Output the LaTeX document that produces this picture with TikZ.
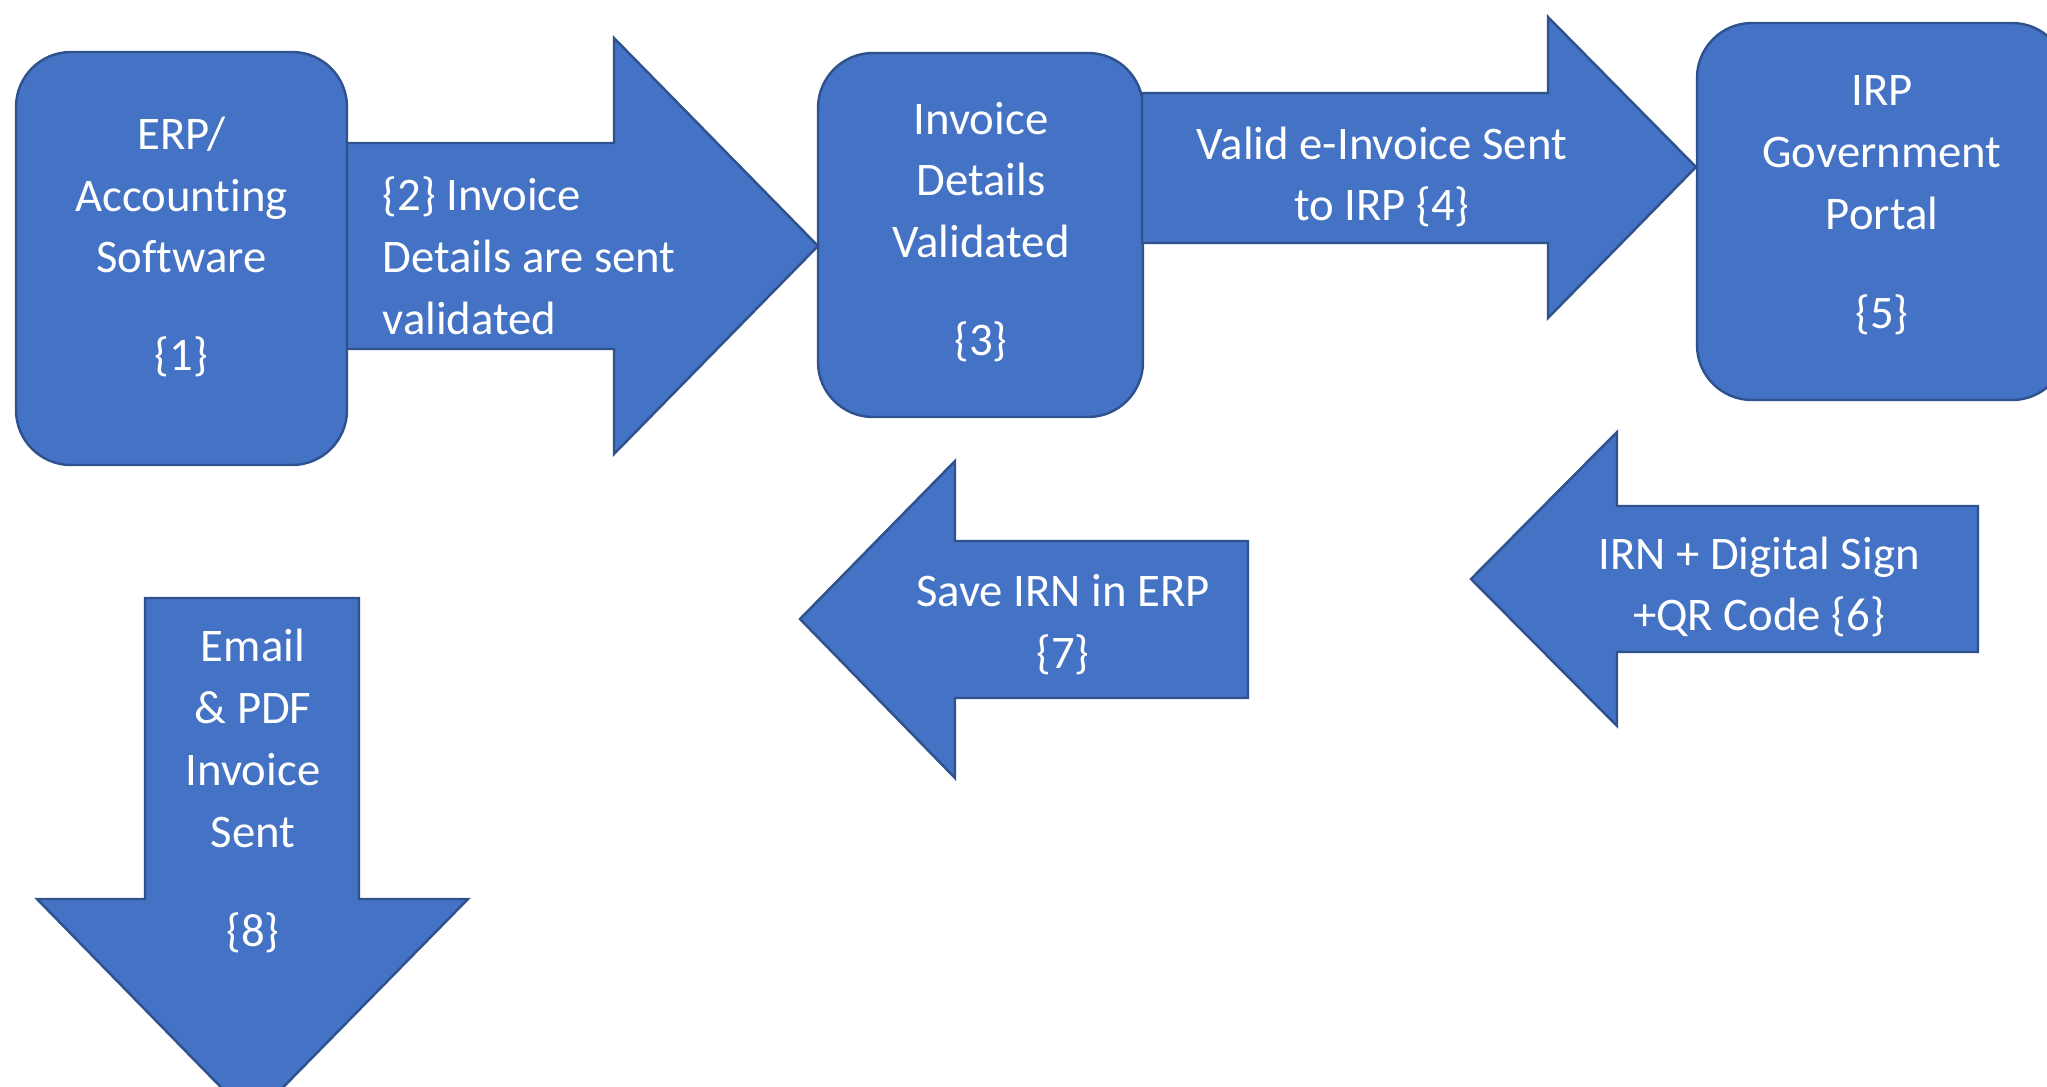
\documentclass[tikz,border=0pt]{standalone}
\usepackage{fontspec}
\setmainfont{Carlito}[Ligatures=NoCommon]

\definecolor{officeblue}{HTML}{4472C4}
\definecolor{officeedge}{HTML}{2F528F}

\tikzset{
  blockshape/.style={fill=officeblue, draw=officeedge, line width=0.7pt},
  roundbox/.style={blockshape, rectangle, rounded corners=5.5mm, inner sep=0pt},
  whitetext/.style={text=white, inner sep=0pt, font=\fontsize{13.3}{17.6}\selectfont}
}

\begin{document}
\begin{tikzpicture}[x=0.1mm, y=-0.1mm]
\useasboundingbox (0,0) rectangle (2047,1087);
\clip (0,0) rectangle (2047,1087);

\node[roundbox, minimum width=33.1mm, minimum height=41.3mm] (erp) at (181.5,258.5) {};
\node[roundbox, minimum width=32.5mm, minimum height=36.4mm] (validbox) at (980.5,235) {};
\node[roundbox, minimum width=37mm, minimum height=37.7mm] (irp) at (1882,211.5) {};

\filldraw[blockshape] (347,143) -- (614,143) -- (614,38) -- (818,246) -- (614,454) -- (614,349) -- (347,349) -- cycle;
\filldraw[blockshape] (1142,93) -- (1548,93) -- (1548,17) -- (1696,167) -- (1548,318) -- (1548,243) -- (1142,243) -- cycle;
\filldraw[blockshape] (1978,506) -- (1617,506) -- (1617,432) -- (1471,579) -- (1617,726) -- (1617,652) -- (1978,652) -- cycle;
\filldraw[blockshape] (1248,541) -- (955,541) -- (955,461) -- (800,619) -- (955,778) -- (955,698) -- (1248,698) -- cycle;
\filldraw[blockshape] (145,598) -- (359,598) -- (359,899) -- (468,899) -- (252,1119) -- (37,899) -- (145,899) -- cycle;

\node[whitetext, align=center] (erptext) at (181.5,247) {ERP/\\Accounting\\Software\\[3.6mm]\{1\}};
\node[whitetext, align=left, anchor=west] (senttext) at (382,256) {\{2\} Invoice\\Details are sent\\validated};
\node[whitetext, align=center] (validtext) at (981,232) {Invoice\\Details\\Validated\\[3.6mm]\{3\}};
\node[whitetext, align=center] (irptext) at (1382,177) {Valid e-Invoice Sent\\to IRP \{4\}};
\node[whitetext, align=center] (portaltext) at (1882,205) {IRP\\Government\\Portal\\[3.7mm]\{5\}};
\node[whitetext, align=center] (irntext) at (1759,587) {IRN + Digital Sign\\+QR Code \{6\}};
\node[whitetext, align=center] (savetext) at (1063,625) {Save IRN in ERP\\\{7\}};
\node[whitetext, align=center] (emailtext) at (253,791) {Email\\\& PDF\\Invoice\\Sent\\[3.7mm]\{8\}};

\end{tikzpicture}
\end{document}
